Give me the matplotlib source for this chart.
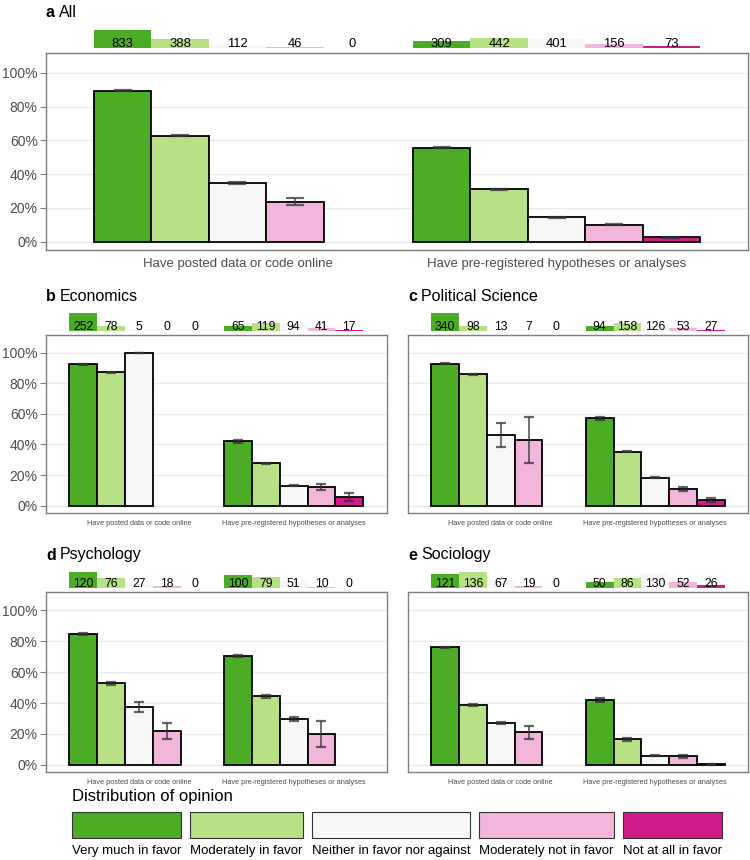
import numpy as np
import matplotlib
matplotlib.use("Agg")
import matplotlib.pyplot as plt
from matplotlib.patches import Rectangle

plt.rcParams['font.family'] = ['Liberation Sans', 'DejaVu Sans']

nan = np.nan

categories = ["Very much in favor", "Moderately in favor", "Neither in favor nor against",
              "Moderately not in favor", "Not at all in favor"]
colors = ['#4dac26', '#b8e186', '#f7f7f7', '#f1b6da', '#d01c8b']
practices = ["Have posted data or code online", "Have pre-registered hypotheses or analyses"]

# share of respondents who report the practice, by opinion (rows: practice)
a_share = [[0.895, 0.629, 0.349, 0.238, nan], [0.556, 0.311, 0.144, 0.102, 0.027]]
a_err = [[0.002, 0.002, 0.005, 0.02, 0], [0.003, 0.002, 0.003, 0.004, 0.004]]
a_n = [[833, 388, 112, 46, 0], [309, 442, 401, 156, 73]]

b_share = [[0.925, 0.872, 1.0, nan, nan], [0.42, 0.277, 0.131, 0.122, 0.059]]
b_err = [[0.003, 0.004, 0.0, 0, 0], [0.01, 0.005, 0.004, 0.017, 0.027]]
b_n = [[252, 78, 5, 0, 0], [65, 119, 94, 41, 17]]

c_share = [[0.928, 0.859, 0.46, 0.427, nan], [0.573, 0.353, 0.183, 0.109, 0.035]]
c_err = [[0.003, 0.005, 0.078, 0.15, 0], [0.01, 0.005, 0.005, 0.01, 0.012]]
c_n = [[340, 98, 13, 7, 0], [94, 158, 126, 53, 27]]

d_share = [[0.845, 0.529, 0.374, 0.22, nan], [0.703, 0.445, 0.297, 0.2, nan]]
d_err = [[0.005, 0.01, 0.03, 0.05, 0], [0.008, 0.01, 0.015, 0.085, 0]]
d_n = [[120, 76, 27, 18, 0], [100, 79, 51, 10, 0]]

e_share = [[0.76, 0.385, 0.27, 0.21, nan], [0.42, 0.165, 0.06, 0.055, 0.003]]
e_err = [[0.005, 0.006, 0.008, 0.04, 0], [0.015, 0.008, 0.003, 0.008, 0.002]]
e_n = [[121, 136, 67, 19, 0], [50, 86, 130, 52, 26]]

W, H = 750, 860
fig = plt.figure(figsize=(W / 100, H / 100), dpi=100)


def rect(l, t, r, b):
    return [l / W, 1 - b / H, (r - l) / W, (b - t) / H]


width = 0.18
offsets = (np.arange(5) - 2) * width


def panel(l, t, r, b, st, sb, letter, name, share, err, n, big, ylabels):
    ax = fig.add_axes(rect(l, t, r, b))
    for g in range(2):
        x = g + 1 + offsets
        vals = np.array(share[g], dtype=float)
        ax.bar(x, vals, width=width, color=colors, edgecolor='black', linewidth=1.3, zorder=3)
        ok = ~np.isnan(vals)
        ax.errorbar(x[ok], vals[ok], yerr=np.array(err[g])[ok], fmt='none', ecolor='#333333',
                    alpha=0.75, elinewidth=1.3, capthick=1.6, capsize=6.5 if big else 3.3, zorder=4)
    ax.set_xlim(0.4, 2.6)
    ax.set_ylim(-0.046, 1.118)
    ax.set_yticks(np.arange(0, 1.01, 0.2))
    ax.yaxis.grid(True, color='#ebebeb', linewidth=1, zorder=0)
    ax.set_axisbelow(True)
    ax.set_xticks([1, 2])
    ax.set_xticklabels(practices, fontsize=9.5 if big else 5.3, color='#4d4d4d')
    ax.tick_params(axis='x', length=0, pad=6 if big else 5)
    if ylabels:
        ax.set_yticklabels(['%d%%' % v for v in range(0, 101, 20)], fontsize=10, color='#4d4d4d')
        ax.tick_params(axis='y', length=4, color='#7f7f7f', pad=2)
    else:
        ax.tick_params(axis='y', length=0, labelleft=False)
    for s in ax.spines.values():
        s.set_color('#7f7f7f')
        s.set_linewidth(1)

    # counts strip
    axs = fig.add_axes(rect(l, st, r, sb))
    mx = max(max(row) for row in n)
    for g in range(2):
        x = g + 1 + offsets
        axs.bar(x, n[g], width=width, color=colors, linewidth=0)
        for xi, ni in zip(x, n[g]):
            axs.text(xi, 0.04, str(ni), transform=axs.get_xaxis_transform(), ha='center',
                     va='baseline', fontsize=9.4 if big else 8.8)
    axs.set_xlim(0.4, 2.6)
    axs.set_ylim(0, mx)
    axs.axis('off')

    # title
    ty = 1 - (st - 17) / H
    tb = fig.text(l / W, ty, letter, fontsize=11.5, fontweight='bold', va='center', ha='left')
    rend = fig.canvas.get_renderer()
    bb = tb.get_window_extent(rend)
    fig.text(bb.x1 / W + 4 / W, ty, name, fontsize=11.5, va='center', ha='left')
    return ax


panel(46, 53, 748, 249.5, 29.7, 47.7, 'a', 'All', a_share, a_err, a_n, True, True)
panel(46, 334.7, 386.5, 512.7, 313.3, 331, 'b', 'Economics', b_share, b_err, b_n, False, True)
panel(408, 334.7, 748, 512.7, 313.3, 331, 'c', 'Political Science', c_share, c_err, c_n, False, False)
panel(46, 592, 386.5, 772, 572, 588, 'd', 'Psychology', d_share, d_err, d_n, False, True)
panel(408, 592, 748, 772, 572, 588, 'e', 'Sociology', e_share, e_err, e_n, False, False)

# legend
fig.text(72 / W, 1 - 796 / H, "Distribution of opinion", fontsize=12, va='center', ha='left')
rend = fig.canvas.get_renderer()
x0 = 72
for cat, col in zip(categories, colors):
    t = fig.text(x0 / W, 1 - 851 / H, cat, fontsize=9.5, va='center', ha='left')
    wpx = t.get_window_extent(rend).width
    fig.patches.append(Rectangle((x0 / W, 1 - 838 / H), wpx / W, 26 / H, transform=fig.transFigure,
                                 facecolor=col, edgecolor='#333333', linewidth=0.8))
    x0 += wpx + 9

fig.savefig('out.png', dpi=100)
